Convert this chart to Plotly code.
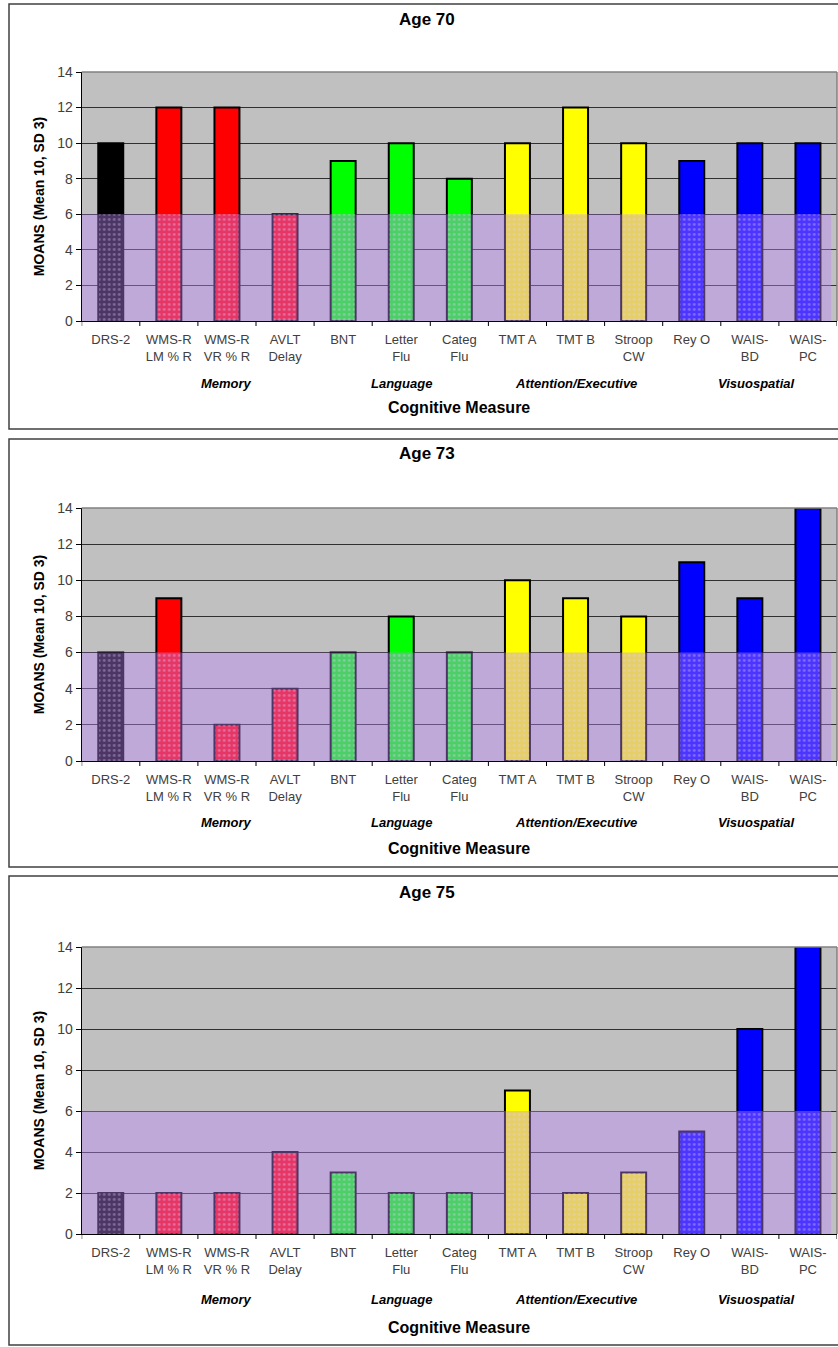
import plotly.graph_objects as go

W, H = 838, 1347

categories = ["DRS-2", "WMS-R<br>LM % R", "WMS-R<br>VR % R", "AVLT<br>Delay", "BNT",
              "Letter<br>Flu", "Categ<br>Flu", "TMT A", "TMT B", "Stroop<br>CW",
              "Rey O", "WAIS-<br>BD", "WAIS-<br>PC"]
bar_colors = ["#000000", "#FF0000", "#FF0000", "#FF0000", "#00FF00", "#00FF00", "#00FF00",
              "#FFFF00", "#FFFF00", "#FFFF00", "#0000FF", "#0000FF", "#0000FF"]
age70 = [10, 12, 12, 6, 9, 10, 8, 10, 12, 10, 9, 10, 10]
age73 = [6, 9, 2, 4, 6, 8, 6, 10, 9, 8, 11, 9, 14]
age75 = [2, 2, 2, 4, 3, 2, 2, 7, 2, 3, 5, 10, 14]
titles = ["Age 70", "Age 73", "Age 75"]
groups = ["Memory", "Language", "Attention/Executive", "Visuospatial"]
group_pos = [2, 5, 8, 11.1]
impaired_cut = 6
y_ticks = [0, 2, 4, 6, 8, 10, 12, 14]

series = [age70, age73, age75]

# pixel geometry of each panel: (plot top, plot bottom, frame top, frame bottom, title y)
panels = [
    (72, 321, 4, 429, 19),
    (508, 761, 439, 867, 454),
    (947, 1234, 876, 1345, 892),
]
x_left, x_right = 81.7, 837.0

def py(p):
    return 1 - p / H

def px(p):
    return p / W

FONT = "Arial, Liberation Sans, sans-serif"
fig = go.Figure()
layout = dict(
    width=W, height=H, margin=dict(l=0, r=0, t=0, b=0, autoexpand=False),
    paper_bgcolor="white", plot_bgcolor="#C0C0C0",
    showlegend=False, barmode="overlay", font=dict(family=FONT, color="#404040", size=13),
)
shapes = []
annotations = []
x_idx = list(range(len(categories)))

for i, vals in enumerate(series):
    n = i + 1
    xa = "x" if n == 1 else f"x{n}"
    ya = "y" if n == 1 else f"y{n}"
    fig.add_trace(go.Bar(
        x=x_idx, y=vals, xaxis=xa, yaxis=ya, width=0.43,
        marker=dict(color=bar_colors, line=dict(color="#000000", width=2)),
        hoverinfo="skip",
    ))
    # texture inside the impaired portion of bars
    fig.add_trace(go.Bar(
        x=x_idx, y=[min(v, impaired_cut) for v in vals], xaxis=xa, yaxis=ya, width=0.40,
        marker=dict(color="rgba(0,0,0,0)", line=dict(width=0),
                    pattern=dict(shape=".", size=5, solidity=0.25,
                                 fgcolor="#FFFFFF", fgopacity=0.35, bgcolor="rgba(0,0,0,0)")),
        hoverinfo="skip",
    ))
    top, bot, ftop, fbot, ty = panels[i]
    layout[("xaxis" if n == 1 else f"xaxis{n}")] = dict(
        domain=[px(x_left), px(x_right)], anchor=ya, range=[-0.5, len(categories) - 0.5],
        tickmode="array", tickvals=x_idx, ticktext=categories, automargin=False,
        showline=True, linecolor="#000000", linewidth=1, ticks="", showgrid=False,
        ticklabelstandoff=6,
        tickfont=dict(size=13, color="#404040"), zeroline=False, fixedrange=True,
    )
    layout[("yaxis" if n == 1 else f"yaxis{n}")] = dict(
        domain=[py(bot), py(top)], anchor=xa, range=[0, 14], tickvals=y_ticks,
        showline=True, linecolor="#000000", linewidth=1, ticks="outside", ticklen=5,
        tickcolor="#000000", gridcolor="#303030", gridwidth=1, zeroline=False,
        tickfont=dict(size=14, color="#404040"), fixedrange=True, automargin=False,
        title=dict(text="<b>MOANS (Mean 10, SD 3)</b>", font=dict(size=14, color="#000000"), standoff=9),
    )
    # x tick marks at category boundaries
    for b in range(len(categories) + 1):
        shapes.append(dict(type="line", xref=xa, yref="paper", x0=b - 0.5, x1=b - 0.5,
                           y0=py(bot), y1=py(bot + 5), line=dict(color="#000000", width=1)))
    # impaired band
    shapes.append(dict(type="rect", xref=xa, yref=ya, x0=-0.5, x1=len(categories) - 0.6,
                       y0=0, y1=impaired_cut, fillcolor="rgb(190,135,255)", opacity=0.4,
                       line=dict(width=0), layer="above"))
    # plot border (right edge gray)
    shapes.append(dict(type="line", xref="paper", yref="paper", x0=px(x_right), x1=px(x_right),
                       y0=py(bot), y1=py(top), line=dict(color="#808080", width=1.5)))
    shapes.append(dict(type="line", xref="paper", yref="paper", x0=px(x_left), x1=px(x_right),
                       y0=py(top), y1=py(top), line=dict(color="#808080", width=1.5)))
    # panel frame
    shapes.append(dict(type="rect", xref="paper", yref="paper", x0=px(9), x1=px(W + 10),
                       y0=py(fbot), y1=py(ftop), line=dict(color="#404040", width=1.5),
                       fillcolor="rgba(0,0,0,0)", layer="below"))
    annotations.append(dict(text=f"<b>{titles[i]}</b>", xref="paper", yref="paper",
                            x=px(427), y=py(ty), showarrow=False, xanchor="center", yanchor="middle",
                            font=dict(size=17, color="#000000", family=FONT)))
    goff = 62 if i < 2 else 65
    moff = 87 if i < 2 else 93
    for g, gp in zip(groups, group_pos):
        annotations.append(dict(text=f"<b><i>{g}</i></b>", xref=xa, yref="paper", x=gp,
                                y=py(bot + goff), showarrow=False, xanchor="center", yanchor="middle",
                                font=dict(size=13, color="#000000", family=FONT)))
    annotations.append(dict(text="<b>Cognitive Measure</b>", xref="paper", yref="paper",
                            x=px(459), y=py(bot + moff), showarrow=False, xanchor="center",
                            yanchor="middle", font=dict(size=16, color="#000000", family=FONT)))

layout["shapes"] = shapes
layout["annotations"] = annotations
fig.update_layout(**layout)
fig.write_html("out.html", config={"displayModeBar": False},
               post_script="document.body.style.margin='0';")
